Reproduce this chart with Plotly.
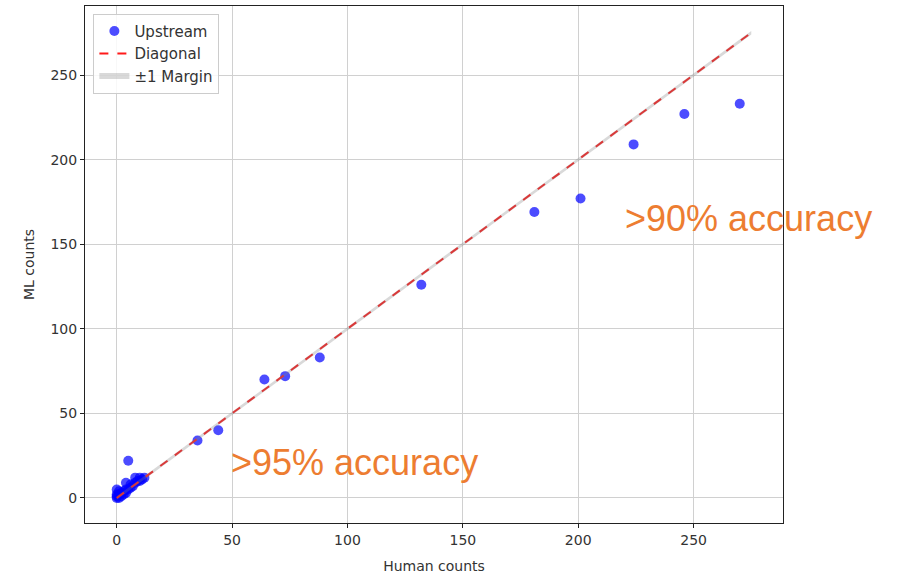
import plotly.graph_objects as go

# Data
human_counts = [270, 246, 224, 201, 181, 132, 88, 73, 64, 44, 35, 5,
                0, 0, 1, 0, 1, 2, 2, 3, 3, 4, 4, 4, 5, 6, 6, 7, 8, 8, 9, 10, 10, 11, 12, 0, 1]
ml_counts = [233, 227, 209, 177, 169, 126, 83, 72, 70, 40, 34, 22,
             0, 1, 0, 2, 4, 1, 3, 2, 4, 3, 5, 9, 5, 6, 8, 7, 9, 12, 10, 10, 12, 11, 12, 5, 2]
diag_x = [0, 275]
margin = 1
x_ticks = [0, 50, 100, 150, 200, 250]
y_ticks = [0, 50, 100, 150, 200, 250]
annotations_text = [">90% accuracy", ">95% accuracy"]

band_x = diag_x + diag_x[::-1]
band_y = [v - margin for v in diag_x] + [v + margin for v in diag_x[::-1]]

fig = go.Figure()
fig.add_trace(go.Scatter(
    x=human_counts, y=ml_counts, mode="markers", name="Upstream",
    marker=dict(color="rgba(0,0,255,0.7)", size=10, line=dict(width=0)),
))
fig.add_trace(go.Scatter(
    x=diag_x, y=diag_x, mode="lines", name="Diagonal",
    line=dict(color="#ff1a1a", width=2, dash="dash"),
))
fig.add_trace(go.Scatter(
    x=band_x, y=band_y, mode="none", fill="toself", name="±1 Margin",
    fillcolor="rgba(128,128,128,0.3)",
))

font_fam = "DejaVu Sans, sans-serif"
axis_common = dict(
    showgrid=True, gridcolor="#d0d0d0", gridwidth=1,
    zeroline=False, showline=True, linecolor="#222", linewidth=1, mirror=True,
    ticks="outside", ticklen=4, tickcolor="#222",
    tickfont=dict(family=font_fam, size=14, color="#333"),
)

fig.update_layout(
    width=907, height=577,
    margin=dict(l=85, r=124, t=5, b=53),
    plot_bgcolor="white", paper_bgcolor="white",
    xaxis=dict(range=[-13.75, 288.75], tickvals=x_ticks,
               title=dict(text="Human counts", font=dict(family=font_fam, size=14, color="#333"), standoff=14),
               **axis_common),
    yaxis=dict(range=[-14.8, 290.8], tickvals=y_ticks,
               title=dict(text="ML counts", font=dict(family=font_fam, size=14, color="#333"), standoff=12),
               **axis_common),
    legend=dict(x=0.012, y=0.985, xanchor="left", yanchor="top",
                bgcolor="rgba(255,255,255,0.85)", bordercolor="#cccccc", borderwidth=1,
                font=dict(family=font_fam, size=15, color="#333"),
                traceorder="normal"),
    showlegend=True,
    annotations=[
        dict(text=annotations_text[0], xref="paper", yref="paper",
             x=(748.5 - 85) / 698, y=1 - (218 - 5) / 519, xanchor="center", yanchor="middle",
             showarrow=False, font=dict(family="Liberation Sans, Arial, sans-serif", size=36, color="#ED7D31")),
        dict(text=annotations_text[1], xref="paper", yref="paper",
             x=(354.5 - 85) / 698, y=1 - (463 - 5) / 519, xanchor="center", yanchor="middle",
             showarrow=False, font=dict(family="Liberation Sans, Arial, sans-serif", size=36, color="#ED7D31")),
    ],
)

fig.write_html("out.html", config={"displayModeBar": False},
               post_script="document.body.style.margin='0';")
